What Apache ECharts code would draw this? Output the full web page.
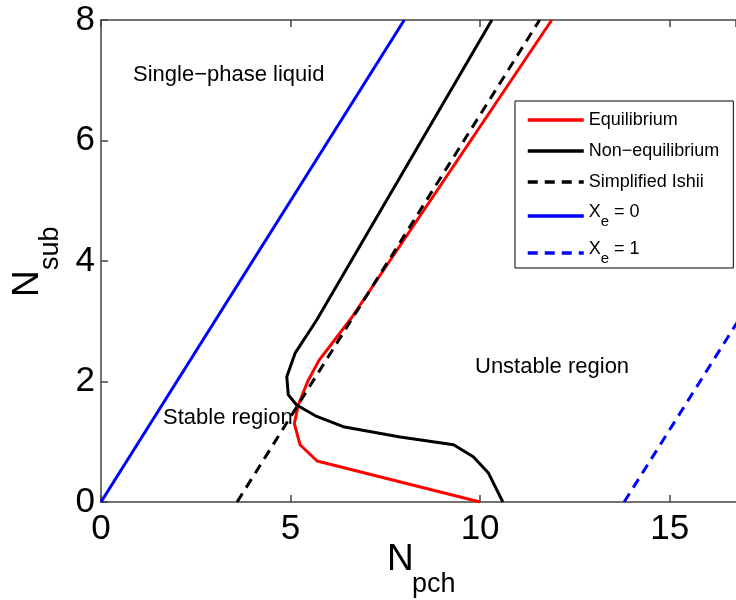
<!DOCTYPE html>
<html><head><meta charset="utf-8">
<script src="https://cdn.jsdelivr.net/npm/echarts@6/dist/echarts.min.js"></script>
<style>html,body{margin:0;padding:0;background:#fff}#c{width:736px;height:600px}</style>
</head><body><div id="c"></div>
<script>
var xTicks = [0, 5, 10, 15];
var yTicks = [0, 2, 4, 6, 8];
var eqX = [10, 5.7, 5.25, 5.1, 5.2, 5.45, 5.75, 6.6, 11.89];
var eqY = [0, 0.68, 0.95, 1.3, 1.6, 2.0, 2.35, 3.05, 8];
var nonX = [10.6, 10.22, 9.82, 9.3, 7.89, 6.39, 5.69, 5.16, 4.94, 4.9, 5.12, 5.69, 10.31];
var nonY = [0, 0.48, 0.75, 0.95, 1.08, 1.25, 1.42, 1.61, 1.78, 2.08, 2.47, 3.02, 8];
var ishiiX = [3.59, 11.57];
var ishiiY = [0, 8];
var xe0X = [0, 8];
var xe0Y = [0, 8];
var xe1X = [13.8, 20];
var xe1Y = [0, 6.2];
var names = ['Equilibrium', 'Non\u2212equilibrium', 'Simplified Ishii', 'Xe0', 'Xe1'];

function zip(a, b) { return a.map(function (v, i) { return [v, b[i]]; }); }
var FONT = '"Liberation Sans", Arial, Helvetica, sans-serif';
var chart = echarts.init(document.getElementById('c'), null, {renderer: 'canvas'});
function ser(name, xs, ys, color, type) {
  return {
    name: name, type: 'line', data: zip(xs, ys), symbol: 'none', showSymbol: false,
    lineStyle: {color: color, width: 3, type: type}, itemStyle: {color: color},
    animation: false, z: 3, clip: true
  };
}
var axisLineStyle = {color: '#444', width: 1.5};
var tickStyle = {show: true, inside: true, length: 7, lineStyle: axisLineStyle};
var subRich = {
  a: {fontFamily: FONT, fontSize: 18, lineHeight: 18, color: '#000', padding: [0, 0, 8, 0]},
  b: {fontFamily: FONT, fontSize: 15, lineHeight: 15, color: '#000', padding: [11, 0, 0, 0]}
};
var legendData = names.map(function (n) {
  return (n === 'Xe0' || n === 'Xe1') ? {name: n, textStyle: {lineHeight: 26, rich: subRich}} : {name: n};
});
chart.setOption({
  animation: false,
  grid: {left: 101, top: 20, right: 0, bottom: 98},
  xAxis: [{
    type: 'value', min: 0, max: 16.75, interval: 5, position: 'bottom',
    axisLine: {show: true, onZero: false, lineStyle: axisLineStyle},
    axisTick: tickStyle, splitLine: {show: false},
    axisLabel: {fontSize: 35, color: '#000', fontFamily: FONT, margin: 10, showMaxLabel: false,
      formatter: function (v) { return xTicks.indexOf(v) >= 0 ? String(v) : ''; }}
  }, {
    type: 'value', min: 0, max: 16.75, interval: 5, position: 'top',
    axisLine: {show: true, onZero: false, lineStyle: axisLineStyle},
    axisTick: tickStyle, splitLine: {show: false}, axisLabel: {show: false}
  }],
  yAxis: {
    type: 'value', min: 0, max: 8, interval: 2,
    axisLine: {show: true, onZero: false, lineStyle: axisLineStyle},
    axisTick: tickStyle, splitLine: {show: false},
    axisLabel: {fontSize: 35, color: '#000', fontFamily: FONT, margin: 6,
      formatter: function (v) { return yTicks.indexOf(v) >= 0 ? String(v) : ''; }}
  },
  legend: {
    orient: 'vertical', left: 515, top: 101,
    backgroundColor: '#fff', borderColor: '#000', borderWidth: 1,
    padding: [9, 14, 2, 11], itemGap: 11, itemWidth: 56, itemHeight: 14,
    itemStyle: {opacity: 0}, lineStyle: {width: 3.5},
    data: legendData,
    textStyle: {fontFamily: FONT, fontSize: 18, lineHeight: 20, color: '#000', rich: subRich},
    formatter: function (n) {
      if (n === 'Xe0') return '{a|X}{b|e}{a| = 0}';
      if (n === 'Xe1') return '{a|X}{b|e}{a| = 1}';
      return n;
    }
  },
  graphic: [
    {type: 'text', x: 133, y: 75, style: {text: 'Single\u2212phase liquid', font: '22px ' + FONT, fill: '#000', verticalAlign: 'middle'}},
    {type: 'text', x: 163, y: 418, style: {text: 'Stable region', font: '22px ' + FONT, fill: '#000', verticalAlign: 'middle'}},
    {type: 'text', x: 475, y: 367, style: {text: 'Unstable region', font: '22px ' + FONT, fill: '#000', verticalAlign: 'middle'}},
    {type: 'text', x: 387, y: 560, style: {text: 'N', font: '37px ' + FONT, fill: '#000', verticalAlign: 'middle'}},
    {type: 'text', x: 412, y: 585, style: {text: 'pch', font: '27px ' + FONT, fill: '#000', verticalAlign: 'middle'}},
    {type: 'text', x: 28, y: 297, rotation: Math.PI / 2, style: {text: 'N', font: '37px ' + FONT, fill: '#000', verticalAlign: 'middle'}},
    {type: 'text', x: 51, y: 270, rotation: Math.PI / 2, style: {text: 'sub', font: '27px ' + FONT, fill: '#000', verticalAlign: 'middle'}}
  ],
  series: [
    ser(names[0], eqX, eqY, '#ff0000', 'solid'),
    ser(names[1], nonX, nonY, '#000000', 'solid'),
    ser(names[2], ishiiX, ishiiY, '#000000', [10, 7]),
    ser(names[3], xe0X, xe0Y, '#0000ff', 'solid'),
    ser(names[4], xe1X, xe1Y, '#0000ff', [10, 7])
  ]
});
</script></body></html>
